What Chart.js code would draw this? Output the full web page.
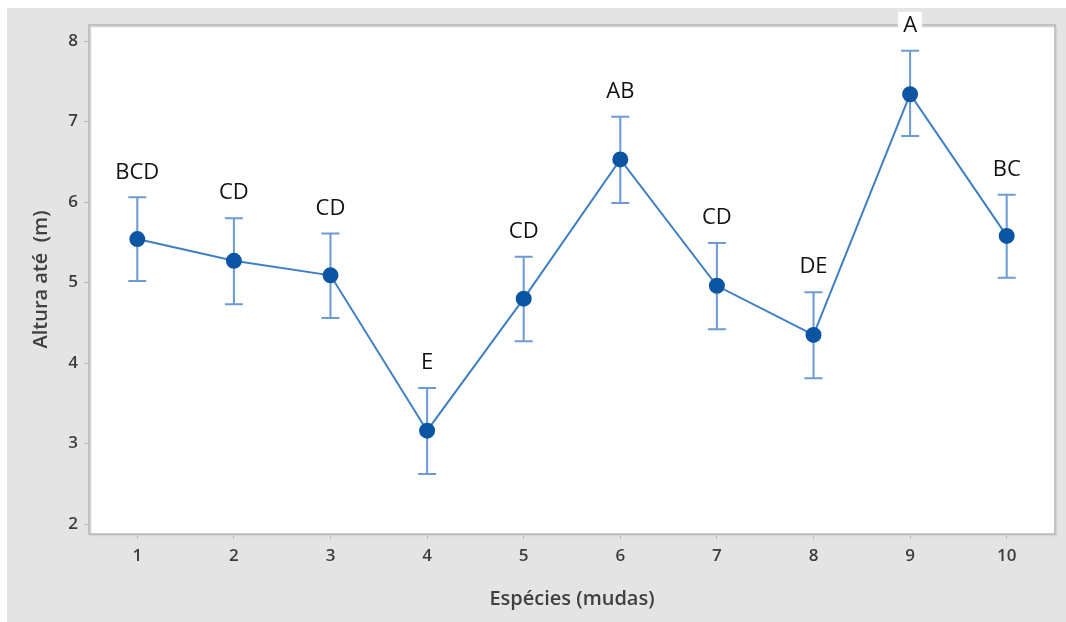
<!DOCTYPE html>
<html>
<head>
<meta charset="utf-8">
<script src="https://cdn.jsdelivr.net/npm/chart.js@4.4.1/dist/chart.umd.min.js"></script>
<style>
  html, body { margin: 0; padding: 0; background: #ffffff; }
  #wrap {
    position: absolute;
    left: 7px;
    top: 8px;
    width: 1059px;
    height: 614px;
    background: #e4e4e4;
  }
</style>
</head>
<body>
<div id="wrap"><canvas id="chart"></canvas></div>
<script>
// Espécies (mudas) 1..10
const especies = [1, 2, 3, 4, 5, 6, 7, 8, 9, 10];
// média da altura (m)
const alturaMedia = [5.54, 5.27, 5.09, 3.16, 4.80, 6.53, 4.96, 4.35, 7.34, 5.58];
// limites do intervalo (barras de erro)
const limiteSup = [6.06, 5.80, 5.61, 3.69, 5.32, 7.06, 5.49, 4.88, 7.88, 6.09];
const limiteInf = [5.02, 4.73, 4.56, 2.62, 4.27, 5.99, 4.42, 3.81, 6.82, 5.06];
// letras do teste de médias
const letras = ['BCD', 'CD', 'CD', 'E', 'CD', 'AB', 'CD', 'DE', 'A', 'BC'];
const yTicks = [2, 3, 4, 5, 6, 7, 8];

const tickFont = { family: '"Open Sans", sans-serif', size: 17, weight: '600' };
const titleFont = { family: '"Open Sans", sans-serif', size: 20, weight: '600' };

// fond blanc + cadre de la zone de tracé
const plotFrame = {
  id: 'plotFrame',
  beforeDraw(chart) {
    const { ctx, chartArea: a } = chart;
    ctx.save();
    ctx.fillStyle = '#ffffff';
    ctx.fillRect(a.left, a.top, a.width, a.height);
    ctx.restore();
  },
  afterDraw(chart) {
    const { ctx, chartArea: a } = chart;
    ctx.save();
    ctx.strokeStyle = '#d4d4d4';
    ctx.lineWidth = 1.5;
    ctx.strokeRect(a.left + 1.5, a.top + 1.5, a.width, a.height);
    ctx.strokeStyle = '#b4b4b4';
    ctx.lineWidth = 1.5;
    ctx.strokeRect(a.left, a.top, a.width, a.height);
    ctx.restore();
  }
};

// barres d'erreur
const errorBars = {
  id: 'errorBars',
  beforeDatasetsDraw(chart) {
    const { ctx, scales: { x, y } } = chart;
    ctx.save();
    ctx.strokeStyle = '#6b9bd2';
    ctx.lineWidth = 2;
    especies.forEach((e, i) => {
      const px = x.getPixelForValue(e);
      const top = y.getPixelForValue(limiteSup[i]);
      const bot = y.getPixelForValue(limiteInf[i]);
      ctx.beginPath();
      ctx.moveTo(px, top); ctx.lineTo(px, bot);
      ctx.moveTo(px - 9, top); ctx.lineTo(px + 9, top);
      ctx.moveTo(px - 9, bot); ctx.lineTo(px + 9, bot);
      ctx.stroke();
    });
    ctx.restore();
  }
};

// lettres au-dessus des barres
const letterLabels = {
  id: 'letterLabels',
  afterDraw(chart) {
    const { ctx, scales: { x, y } } = chart;
    ctx.save();
    ctx.font = '500 22px "Open Sans", sans-serif';
    ctx.textAlign = 'center';
    ctx.textBaseline = 'middle';
    especies.forEach((e, i) => {
      const px = x.getPixelForValue(e);
      const py = y.getPixelForValue(limiteSup[i]) - 25;
      const w = ctx.measureText(letras[i]).width;
      ctx.fillStyle = '#ffffff';
      ctx.fillRect(px - w / 2 - 5, py - 14, w + 10, 28);
      ctx.fillStyle = '#111111';
      ctx.fillText(letras[i], px, py);
    });
    ctx.restore();
  }
};

new Chart(document.getElementById('chart'), {
  type: 'line',
  data: {
    datasets: [{
      data: especies.map((e, i) => ({ x: e, y: alturaMedia[i] })),
      borderColor: '#3f7fc4',
      borderWidth: 2,
      pointBackgroundColor: '#0b55a3',
      pointBorderColor: '#0b55a3',
      pointRadius: 7,
      pointHoverRadius: 7,
      tension: 0
    }]
  },
  plugins: [plotFrame, errorBars, letterLabels],
  options: {
    responsive: true,
    maintainAspectRatio: false,
    animation: false,
    layout: { padding: { top: 17, right: 11, bottom: 0, left: 0 } },
    plugins: {
      legend: { display: false },
      tooltip: { enabled: false }
    },
    scales: {
      x: {
        type: 'linear',
        min: 0.5,
        max: 10.5,
        afterBuildTicks: scale => { scale.ticks = especies.map(v => ({ value: v })); },
        afterFit: scale => { scale.height = 88; },
        grid: { drawOnChartArea: false, tickLength: 5, color: '#b4b4b4' },
        border: { display: false },
        ticks: { color: '#3c3c3c', font: tickFont, padding: 7 },
        title: {
          display: true,
          text: 'Espécies (mudas)',
          color: '#404040',
          font: titleFont,
          padding: { top: 0, bottom: 11 }
        }
      },
      y: {
        min: 1.876,
        max: 8.2,
        afterBuildTicks: scale => { scale.ticks = yTicks.map(v => ({ value: v })); },
        afterFit: scale => { scale.width = 82; },
        grid: { drawOnChartArea: false, tickLength: 5, color: '#b4b4b4' },
        border: { display: false },
        ticks: { color: '#3c3c3c', font: tickFont, padding: 6 },
        title: {
          display: true,
          text: 'Altura até  (m)',
          color: '#404040',
          font: titleFont,
          padding: { top: 22, bottom: 0 }
        }
      }
    }
  }
});
</script>
</body>
</html>
